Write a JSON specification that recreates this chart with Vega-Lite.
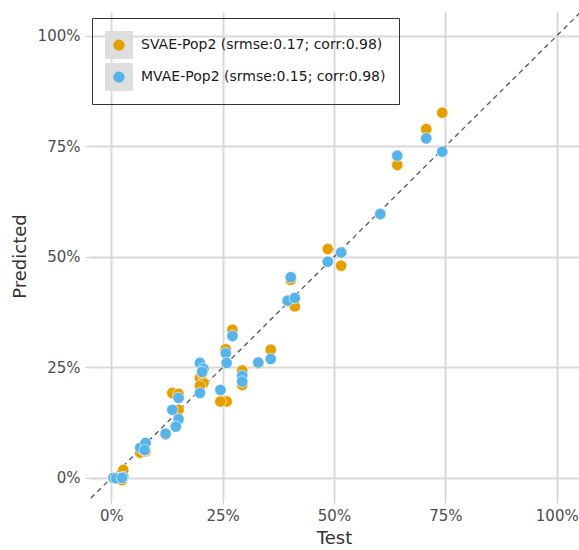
{
  "$schema": "https://vega.github.io/schema/vega-lite/v6.json",
  "autosize": {"type": "none"},
  "padding": {"left": 89, "top": 12, "right": 0, "bottom": 50},
  "width": 490,
  "height": 488,
  "background": "white",
  "config": {
    "view": {"stroke": null},
    "font": "DejaVu Sans",
    "axis": {
      "labelFont": "DejaVu Sans",
      "labelFontSize": 15,
      "labelColor": "#4d4d4d",
      "titleFont": "DejaVu Sans",
      "titleFontSize": 18,
      "titleFontWeight": "normal",
      "titleColor": "#333333",
      "domain": false,
      "tickColor": "#cccccc",
      "tickSize": 4,
      "gridColor": "#d9d9d9",
      "gridWidth": 2
    }
  },
  "layer": [
    {
      "data": {"values": [{"a": -0.06}, {"a": 1.07}]},
      "mark": {"type": "line", "color": "#555555", "strokeDash": [5, 4], "strokeWidth": 1.3, "clip": true},
      "encoding": {
        "x": {"field": "a", "type": "quantitative", "scale": {"domain": [-0.05, 1.05], "nice": false, "zero": false},
              "axis": {"values": [0, 0.25, 0.5, 0.75, 1], "format": ".0%", "title": "Test", "labelPadding": 4, "titlePadding": 6}},
        "y": {"field": "a", "type": "quantitative", "scale": {"domain": [-0.05, 1.054], "nice": false, "zero": false},
              "axis": {"values": [0, 0.25, 0.5, 0.75, 1], "format": ".0%", "title": "Predicted", "labelPadding": 5, "titlePadding": 8}}
      }
    },
    {
      "data": {"values": [
        {"test": 0.005, "SVAE": 0.0, "MVAE": 0.0},
        {"test": 0.011, "SVAE": 0.0, "MVAE": -0.001},
        {"test": 0.027, "SVAE": 0.018, "MVAE": 0.002},
        {"test": 0.024, "SVAE": -0.005, "MVAE": 0.0},
        {"test": 0.065, "SVAE": 0.057, "MVAE": 0.068},
        {"test": 0.077, "SVAE": 0.060, "MVAE": 0.079},
        {"test": 0.075, "SVAE": 0.062, "MVAE": 0.063},
        {"test": 0.122, "SVAE": 0.098, "MVAE": 0.100},
        {"test": 0.137, "SVAE": 0.192, "MVAE": 0.154},
        {"test": 0.151, "SVAE": 0.190, "MVAE": 0.181},
        {"test": 0.151, "SVAE": 0.154, "MVAE": 0.133},
        {"test": 0.145, "SVAE": 0.118, "MVAE": 0.116},
        {"test": 0.199, "SVAE": 0.226, "MVAE": 0.260},
        {"test": 0.207, "SVAE": 0.215, "MVAE": 0.247},
        {"test": 0.204, "SVAE": 0.237, "MVAE": 0.240},
        {"test": 0.199, "SVAE": 0.208, "MVAE": 0.192},
        {"test": 0.272, "SVAE": 0.335, "MVAE": 0.321},
        {"test": 0.257, "SVAE": 0.291, "MVAE": 0.282},
        {"test": 0.259, "SVAE": 0.173, "MVAE": 0.260},
        {"test": 0.245, "SVAE": 0.173, "MVAE": 0.199},
        {"test": 0.294, "SVAE": 0.243, "MVAE": 0.231},
        {"test": 0.294, "SVAE": 0.210, "MVAE": 0.218},
        {"test": 0.330, "SVAE": 0.259, "MVAE": 0.261},
        {"test": 0.358, "SVAE": 0.290, "MVAE": 0.269},
        {"test": 0.396, "SVAE": 0.400, "MVAE": 0.401},
        {"test": 0.412, "SVAE": 0.388, "MVAE": 0.407},
        {"test": 0.403, "SVAE": 0.448, "MVAE": 0.454},
        {"test": 0.486, "SVAE": 0.518, "MVAE": 0.489},
        {"test": 0.516, "SVAE": 0.480, "MVAE": 0.510},
        {"test": 0.604, "SVAE": 0.597, "MVAE": 0.597},
        {"test": 0.642, "SVAE": 0.708, "MVAE": 0.729},
        {"test": 0.707, "SVAE": 0.789, "MVAE": 0.768},
        {"test": 0.743, "SVAE": 0.826, "MVAE": 0.738}
      ]},
      "transform": [{"fold": ["SVAE", "MVAE"], "as": ["model", "pred"]}],
      "mark": {"type": "point", "filled": true, "size": 130, "opacity": 1, "stroke": "white", "strokeWidth": 0.6},
      "encoding": {
        "x": {"field": "test", "type": "quantitative"},
        "y": {"field": "pred", "type": "quantitative"},
        "order": {"field": "model", "sort": "descending"},
        "color": {
          "field": "model", "type": "nominal",
          "scale": {"domain": ["SVAE", "MVAE"], "range": ["#E69F00", "#56B4E9"]},
          "legend": {
            "title": null, "orient": "none", "legendX": 3, "legendY": 6, "zindex": 2,
            "padding": 13, "symbolSize": 784, "rowPadding": 4, "labelOffset": 8,
            "symbolType": "M-1,-1L-1,-1M1,1L1,1M0.4,0A0.4,0.4,0,1,1,-0.4,0A0.4,0.4,0,1,1,0.4,0Z",
            "symbolStrokeWidth": 0, "symbolOpacity": 1,
            "strokeColor": "#333333", "fillColor": null,
            "labelFont": "DejaVu Sans", "labelFontSize": 14, "labelColor": "#1a1a1a", "labelLimit": 400,
            "labelExpr": "datum.label == 'SVAE' ? 'SVAE-Pop2 (srmse:0.17; corr:0.98)' : 'MVAE-Pop2 (srmse:0.15; corr:0.98)'"
          }
        }
      }
    },
    {
      "data": {"values": [{"k": "s"}, {"k": "m"}]},
      "transform": [{"filter": "false"}],
      "mark": {"type": "point", "filled": true, "color": "#dedede", "opacity": 1},
      "encoding": {
        "shape": {
          "field": "k", "type": "nominal",
          "scale": {"domain": ["s", "m"], "range": ["square", "square"]},
          "legend": {
            "title": null, "orient": "none", "legendX": 3, "legendY": 6, "zindex": 1,
            "padding": 13, "symbolSize": 784, "rowPadding": 4, "labelOffset": 8,
            "symbolFillColor": "#dedede", "symbolStrokeWidth": 0, "symbolOpacity": 1,
            "labelFont": "DejaVu Sans", "labelFontSize": 14, "labelExpr": "''"
          }
        }
      }
    }
  ]
}
